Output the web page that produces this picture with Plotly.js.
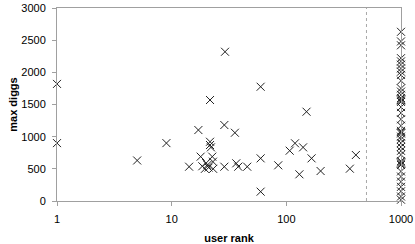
<!DOCTYPE html>
<html><head><meta charset="utf-8">
<script src="https://cdn.plot.ly/plotly-3.0.1.min.js"></script>
<style>html,body{margin:0;padding:0;background:#fff}</style>
</head><body>
<div id="chart" style="width:415px;height:244px"></div>
<script>
// Users with a known rank
const rankX = [1, 1, 5, 9, 14.2, 17.1, 17.9, 18.5, 19.5, 20, 20.5, 21, 21.6, 21.6, 21.6, 22, 22.6, 22.9, 23, 28.8, 28.8, 29.2, 35.6, 36.6, 38.1, 45.6, 59.7, 59.7, 59.7, 85, 107, 119, 130, 140, 150, 166, 199, 358, 404];
const rankY = [1820, 900, 630, 900, 533, 1103, 689, 540, 500, 590, 560, 520, 1570, 921, 870, 834, 689, 611, 500, 533, 1181, 2320, 1061, 586, 533, 533, 1776, 663, 145, 555, 782, 897, 415, 834, 1388, 663, 466, 502, 715];
// Users beyond the ranked list (plotted at 1000)
const unrankedY = [2630, 2480, 2420, 2220, 2170, 2120, 2060, 2010, 1960, 1870, 1750, 1700, 1650, 1600, 1580, 1560, 1540, 1460, 1370, 1270, 1170, 1090, 1070, 1050, 1000, 960, 900, 840, 780, 720, 620, 600, 580, 560, 460, 380, 300, 220, 150, 70, 20];
const unrankedX = unrankedY.map(() => 1000);
// Cut-off line
const cutoffX = [500, 500];
const cutoffY = [0, 3000];
const xTickVals = [1, 10, 100, 1000];
const xTickText = ['1', '10', '100', '1000'];
const yTickVals = [0, 500, 1000, 1500, 2000, 2500, 3000];

const mk = {symbol: 'x-thin', size: 8, color: '#222', line: {width: 1, color: '#222'}};
const traces = [
  {x: cutoffX, y: cutoffY, mode: 'lines', line: {color: '#a8a8a8', width: 1, dash: 'dot'}, hoverinfo: 'skip'},
  {x: rankX, y: rankY, mode: 'markers', marker: mk, cliponaxis: false},
  {x: unrankedX, y: unrankedY, mode: 'markers', marker: mk, cliponaxis: false}
];
const layout = {
  width: 415, height: 244,
  margin: {l: 57, r: 14, t: 8, b: 43},
  showlegend: false,
  paper_bgcolor: '#fff', plot_bgcolor: '#fff',
  font: {family: 'Liberation Sans, Arial, sans-serif', size: 11, color: '#000'},
  xaxis: {
    type: 'log', range: [0, 3], tickvals: xTickVals, ticktext: xTickText,
    showgrid: false, zeroline: false, showline: true, mirror: true,
    linecolor: '#a0a0a0', linewidth: 1, ticks: 'outside', ticklen: 4, tickcolor: '#a0a0a0',
    tickfont: {size: 11}, ticklabelstandoff: 4,
    title: {text: '<b>user rank</b>', font: {size: 11}, standoff: 10}
  },
  yaxis: {
    range: [0, 3000], tickvals: yTickVals,
    showgrid: false, zeroline: false, showline: true, mirror: true,
    linecolor: '#a0a0a0', linewidth: 1, ticks: 'outside', ticklen: 4, tickcolor: '#a0a0a0',
    tickfont: {size: 11}, ticklabelstandoff: 4,
    title: {text: '<b>max diggs</b>', font: {size: 11}, standoff: 1}
  }
};
Plotly.newPlot('chart', traces, layout, {displayModeBar: false, staticPlot: true});
</script>
</body></html>
